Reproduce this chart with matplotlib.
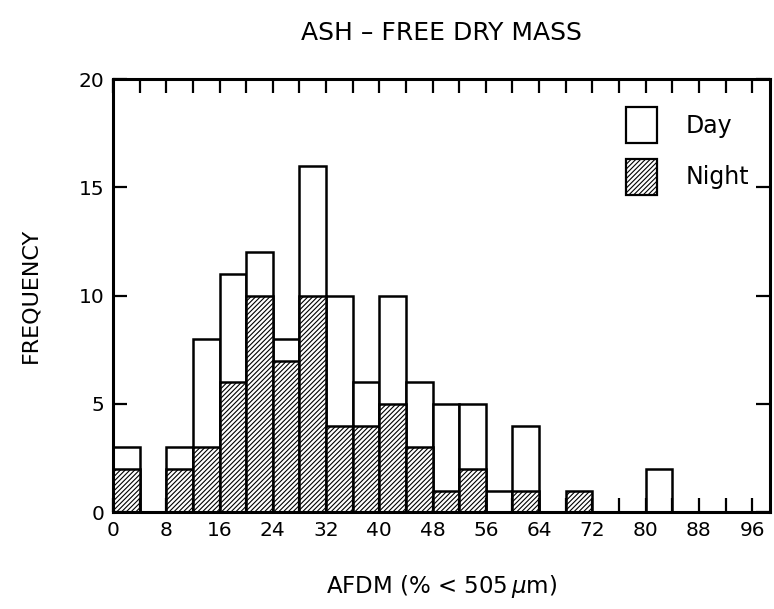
import matplotlib.pyplot as plt
import numpy as np
from matplotlib.patches import Patch

plt.rcParams['font.family'] = ['DejaVu Sans']
plt.rcParams['hatch.linewidth'] = 0.8

# bin left edges (width 4)
bin_left = np.arange(0, 100, 4)
day_total = [3, 0, 3, 8, 11, 12, 8, 16, 10, 6, 10, 6, 5, 5, 1, 4, 0, 0, 0, 0, 2, 0, 0, 0, 0]
night = [2, 0, 2, 3, 6, 10, 7, 10, 4, 4, 5, 3, 1, 2, 0, 1, 0, 1, 0, 0, 0, 0, 0, 0, 0]
x_ticks = list(range(0, 97, 8))

fig = plt.figure(figsize=(7.74, 6.09), dpi=100)
ax = fig.add_axes([0.146, 0.159, 0.849, 0.711])

ax.bar(bin_left, day_total, width=4, align='edge', facecolor='white',
       edgecolor='black', linewidth=1.8)
ax.bar(bin_left, night, width=4, align='edge', facecolor='white',
       edgecolor='black', linewidth=1.8, hatch='///////')

ax.set_xlim(0, 98.7)
ax.set_ylim(0, 20)
ax.set_xticks(x_ticks)
ax.set_xticks(range(0, 100, 4), minor=True)
ax.set_yticks([0, 5, 10, 15, 20])
ax.tick_params(which='both', direction='in', length=10, width=1.6,
               top=True, right=True, labelsize=14.5, pad=6)
for s in ax.spines.values():
    s.set_linewidth(2.2)

ax.set_title('ASH – FREE DRY MASS', fontsize=18, pad=28)
ax.set_ylabel('FREQUENCY', fontsize=16, labelpad=28)
ax.set_xlabel(r'AFDM (% < 505$\,\mu$m)', fontsize=16.5, labelpad=24)

handles = [Patch(facecolor='white', edgecolor='black', linewidth=1.6),
           Patch(facecolor='white', edgecolor='black', linewidth=1.6, hatch='///////')]
ax.legend(handles, ['Day', 'Night'], loc='upper right', frameon=False,
          fontsize=17, handlelength=1.3, handleheight=2.0, handletextpad=1.2,
          labelspacing=0.65, bbox_to_anchor=(1.0, 0.985))

fig.savefig('out.png', dpi=100)
